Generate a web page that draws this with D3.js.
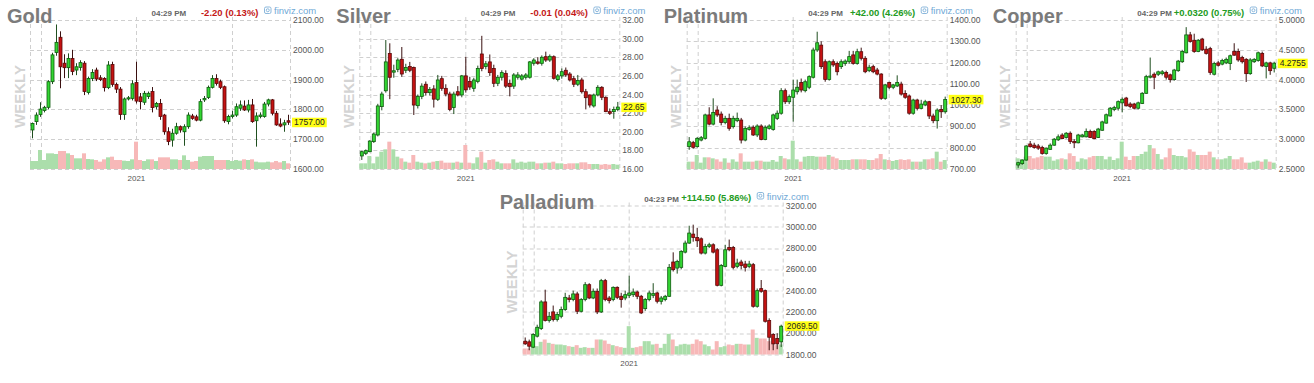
<!DOCTYPE html>
<html><head><meta charset="utf-8">
<script src="https://cdn.jsdelivr.net/npm/d3@7"></script>
<style>
body{margin:0;background:#fff}
svg{display:block}
text{font-family:"Liberation Sans",Arial,sans-serif}
</style>
</head><body>
<svg id="c" width="1314" height="383"></svg>
<script>
// ---------- DATA ([open, high, low, close] per weekly candle) ----------
const goldCandles = [
[1731,1756,1703,1753],[1759,1790,1748,1781],[1783,1824,1775,1801],[1796,1812,1790,1807],[1807,1898,1800,1893],
[1893,1990,1885,1983],[1991,2085,1980,2025],[2042,2062,1871,1943],[1955,1985,1905,1940],[1940,1988,1905,1971],
[1971,2000,1915,1927],[1932,1955,1915,1943],[1941,1965,1930,1957],[1955,1962,1848,1860],[1857,1910,1850,1904],
[1904,1935,1895,1924],[1932,1940,1895,1902],[1906,1915,1895,1900],[1904,1908,1860,1873],[1873,1962,1868,1949],
[1951,1960,1876,1884],[1884,1890,1855,1868],[1868,1875,1765,1783],[1783,1840,1765,1835],[1835,1845,1830,1839],
[1837,1898,1830,1886],[1890,1960,1820,1828],[1842,1855,1800,1826],[1824,1862,1815,1854],[1843,1860,1835,1854],
[1860,1875,1790,1806],[1809,1825,1800,1820],[1820,1835,1765,1776],[1781,1785,1715,1725],[1725,1740,1680,1692],
[1697,1735,1675,1720],[1720,1755,1715,1742],[1742,1746,1722,1731],[1725,1750,1678,1742],[1742,1790,1735,1781],
[1778,1785,1765,1770],[1775,1782,1760,1764],[1764,1835,1760,1826],[1832,1845,1825,1837],[1840,1880,1835,1874],
[1874,1915,1870,1904],[1904,1918,1880,1887],[1893,1900,1868,1874],[1876,1880,1755,1762],[1759,1782,1750,1776],
[1776,1795,1770,1781],[1781,1820,1775,1809],[1804,1830,1795,1815],[1811,1830,1795,1798],[1798,1832,1790,1815],
[1815,1835,1755,1759],[1762,1790,1675,1778],[1776,1790,1770,1781],[1776,1825,1772,1818],[1818,1836,1810,1832],
[1832,1835,1780,1787],[1787,1795,1745,1748],[1751,1770,1740,1744],[1748,1765,1725,1755],[1762,1782,1748,1757]
];
const goldVolume = [24,24,57,27,47,47,45,54,54,47,42,32,32,47,30,29,27,22,29,35,37,27,27,25,24,29,82,27,24,29,29,24,35,35,35,29,29,27,41,27,22,24,37,39,39,39,27,27,27,27,24,27,25,29,27,29,22,20,20,22,20,24,20,24,17];
const goldTicks = [1600,1700,1800,1900,2000,2100];

const silverCandles = [
[17.40,17.95,16.97,17.86],[17.68,18.10,17.50,17.97],[17.86,19.10,17.80,19.00],[18.94,19.90,18.80,19.76],[19.65,23.00,19.50,22.77],
[22.70,24.30,22.30,24.05],[24.40,29.85,24.20,27.50],[28.40,29.50,23.50,25.85],[26.40,27.20,25.80,26.55],[26.70,27.90,26.40,27.70],
[27.78,29.10,25.90,26.20],[26.60,27.30,26.30,26.90],[27.00,27.50,26.40,26.60],[26.90,27.00,21.80,22.87],[22.80,24.00,22.50,23.80],
[23.80,25.20,23.50,24.90],[25.10,25.40,23.90,24.20],[24.20,24.80,23.90,24.55],[24.60,25.00,22.60,23.50],[23.48,26.10,23.30,25.56],
[25.70,26.00,24.40,24.66],[24.66,25.10,23.80,24.05],[24.05,24.30,22.20,22.40],[22.60,24.30,21.90,24.05],[24.30,24.90,23.80,23.95],
[23.95,26.10,23.70,26.00],[26.00,28.06,24.20,24.50],[25.40,25.90,24.50,24.80],[24.66,25.80,24.30,25.56],[25.40,27.10,25.20,26.80],
[28.35,30.30,26.50,26.80],[27.00,27.60,26.70,27.30],[27.50,28.30,26.00,26.35],[26.80,27.20,24.80,25.20],[25.20,26.10,24.90,25.85],
[25.85,26.60,25.50,26.35],[26.27,26.60,24.70,24.90],[25.20,25.60,23.80,24.84],[24.90,26.30,24.60,26.10],[25.85,26.40,25.60,26.10],
[25.65,26.20,25.50,26.00],[25.85,26.30,25.60,26.10],[25.85,27.60,25.70,27.50],[27.35,27.90,27.10,27.70],[27.50,28.00,27.20,27.35],
[27.35,28.20,27.10,28.00],[28.06,28.60,27.50,27.70],[27.70,28.30,27.50,28.10],[28.06,28.20,25.60,25.74],[25.60,26.20,25.40,26.00],
[26.00,26.80,25.70,26.45],[26.60,26.90,25.90,26.10],[26.20,26.40,25.40,25.56],[25.70,26.00,24.80,25.10],[25.10,26.10,24.90,25.50],
[25.56,25.80,24.10,24.30],[24.30,24.60,22.40,23.66],[23.95,24.00,22.60,22.87],[22.77,24.10,22.60,23.95],[23.95,25.00,23.80,24.77],
[24.77,24.90,23.40,23.70],[23.70,23.80,22.10,22.16],[22.16,22.50,21.80,21.98],[22.16,22.70,21.40,22.40],[22.40,23.20,22.20,22.65]
];
const silverVolume = [17,17,39,17,37,52,59,82,59,37,32,22,19,42,22,19,17,19,22,24,25,19,19,19,22,19,72,19,17,35,52,19,27,29,22,17,17,17,29,19,22,19,22,22,17,17,19,19,22,17,17,15,17,17,17,20,20,15,15,15,13,15,13,15,13];
const silverTicks = [16,18,20,22,24,26,28,30,32];

const platinumCandles = [
[805,850,790,828],[824,832,795,802],[805,850,800,844],[836,855,830,847],[844,960,838,954],
[954,990,905,911],[911,1032,905,965],[977,995,945,954],[958,970,905,918],[918,950,910,938],
[938,960,880,891],[899,950,890,938],[927,965,920,938],[930,940,820,836],[836,900,830,891],
[886,905,880,894],[896,905,855,860],[860,910,850,902],[902,910,835,839],[839,905,835,896],
[891,910,885,902],[886,960,880,954],[938,975,930,962],[962,1080,955,1068],[1068,1078,1005,1016],
[1016,1050,1005,1040],[1037,1120,922,1071],[1063,1120,1050,1084],[1106,1125,1060,1071],[1068,1120,1060,1110],
[1084,1140,1075,1134],[1131,1270,1125,1259],[1259,1345,1250,1293],[1282,1300,1170,1181],[1204,1215,1110,1121],
[1121,1210,1115,1204],[1204,1215,1180,1189],[1196,1205,1140,1157],[1181,1215,1170,1204],[1196,1215,1185,1207],
[1204,1255,1195,1228],[1236,1255,1190,1196],[1196,1265,1190,1251],[1251,1270,1210,1220],[1220,1230,1150,1157],
[1162,1190,1155,1178],[1181,1190,1150,1157],[1165,1175,1140,1146],[1146,1150,1025,1032],[1032,1100,1025,1095],
[1106,1110,1075,1084],[1084,1100,1075,1095],[1090,1140,1085,1106],[1099,1110,1045,1052],[1055,1070,1030,1037],
[1043,1050,955,962],[962,1030,955,1024],[1024,1030,975,985],[985,1025,980,1005],[1001,1025,995,1016],
[1016,1020,935,949],[949,960,915,927],[927,985,890,977],[980,1000,940,969],[969,1040,960,1027]
];
const platinumVolume = [22,22,42,19,35,35,32,29,22,32,19,29,22,47,22,22,22,25,25,22,22,27,22,39,32,29,85,29,22,37,39,39,37,37,37,42,37,32,27,27,27,29,29,29,29,27,27,32,45,29,27,24,27,29,27,29,22,22,22,29,29,32,52,22,27];
const platinumTicks = [700,800,900,1000,1100,1200,1300,1400];

const copperCandles = [
[2.567,2.62,2.52,2.606],[2.59,2.66,2.57,2.65],[2.65,2.90,2.64,2.886],[2.92,2.97,2.86,2.875],[2.90,2.94,2.84,2.86],
[2.886,2.92,2.82,2.85],[2.86,2.89,2.74,2.76],[2.76,2.86,2.74,2.85],[2.83,2.93,2.82,2.90],[2.90,3.02,2.89,3.00],
[2.99,3.08,2.97,3.04],[3.07,3.10,3.00,3.01],[3.03,3.12,3.01,3.10],[3.10,3.13,2.92,2.96],[2.96,3.00,2.85,2.94],
[2.94,3.09,2.93,3.07],[3.04,3.09,3.03,3.07],[3.04,3.18,3.03,3.13],[3.13,3.16,3.02,3.03],[3.13,3.15,3.00,3.01],
[3.03,3.19,3.02,3.17],[3.15,3.31,3.14,3.29],[3.27,3.43,3.26,3.41],[3.39,3.54,3.38,3.52],[3.50,3.56,3.47,3.53],
[3.52,3.65,3.48,3.63],[3.61,3.70,3.45,3.67],[3.69,3.71,3.55,3.56],[3.59,3.62,3.52,3.55],[3.59,3.61,3.50,3.52],
[3.52,3.63,3.50,3.61],[3.60,3.79,3.59,3.77],[3.77,4.08,3.76,4.05],[4.04,4.37,4.02,4.06],[4.09,4.12,3.84,4.04],
[4.09,4.15,4.06,4.13],[4.10,4.16,4.07,4.13],[4.12,4.15,4.00,4.04],[4.08,4.10,3.95,4.00],[4.00,4.18,3.98,4.16],
[4.15,4.33,4.13,4.31],[4.30,4.50,4.28,4.47],[4.45,4.88,4.44,4.75],[4.75,4.80,4.62,4.64],[4.66,4.77,4.45,4.47],
[4.47,4.68,4.46,4.66],[4.68,4.70,4.48,4.50],[4.51,4.56,4.42,4.44],[4.52,4.55,4.08,4.12],[4.09,4.30,4.07,4.27],
[4.28,4.31,4.22,4.24],[4.26,4.35,4.24,4.32],[4.28,4.37,4.26,4.34],[4.27,4.42,4.16,4.40],[4.47,4.61,4.40,4.41],
[4.47,4.52,4.30,4.33],[4.37,4.40,4.27,4.30],[4.34,4.36,3.96,4.10],[4.10,4.36,4.08,4.33],[4.30,4.36,4.28,4.34],
[4.32,4.47,4.30,4.45],[4.44,4.47,4.21,4.23],[4.22,4.30,4.02,4.28],[4.28,4.30,4.08,4.15],[4.19,4.30,4.12,4.2755]
];
const copperVolume = [32,29,37,39,32,35,39,37,37,25,29,32,29,47,39,22,32,29,35,39,39,39,29,37,27,32,82,37,27,39,39,45,52,72,62,45,29,35,62,42,39,39,35,59,52,42,42,42,52,35,29,29,32,39,29,29,35,19,19,22,25,22,29,22,19];
const copperTicks = [2.5,3.0,3.5,4.0,4.5,5.0];

const palladiumCandles = [
[1925,1960,1890,1900],[1919,1940,1840,1878],[1869,2000,1860,1988],[1972,2080,1960,2056],[2044,2310,2030,2294],
[2294,2409,2110,2119],[2119,2200,2100,2159],[2200,2260,2110,2128],[2128,2200,2110,2175],[2159,2250,2140,2222],
[2222,2380,2210,2337],[2331,2360,2290,2316],[2316,2400,2300,2369],[2369,2390,2180,2206],[2206,2330,2195,2316],
[2316,2480,2300,2456],[2456,2470,2320,2331],[2331,2420,2320,2394],[2394,2420,2180,2200],[2200,2510,2190,2494],
[2494,2510,2300,2316],[2331,2350,2280,2306],[2316,2440,2300,2431],[2431,2440,2320,2337],[2347,2380,2240,2316],
[2331,2400,2310,2362],[2356,2540,2330,2378],[2362,2420,2340,2387],[2387,2400,2320,2347],[2347,2360,2180,2191],
[2231,2330,2210,2316],[2316,2400,2300,2378],[2356,2470,2330,2372],[2378,2390,2280,2300],[2300,2350,2270,2331],
[2316,2360,2300,2347],[2347,2650,2340,2619],[2669,2760,2580,2597],[2612,2690,2560,2675],[2619,2780,2600,2769],
[2762,2870,2750,2847],[2847,3010,2840,2941],[2931,3020,2860,2900],[2900,2990,2810,2869],[2887,2900,2740,2753],
[2753,2840,2740,2816],[2816,2850,2800,2831],[2831,2845,2750,2762],[2784,2800,2440,2450],[2450,2650,2440,2637],
[2628,2830,2620,2784],[2806,2880,2770,2784],[2806,2820,2600,2619],[2628,2700,2610,2659],[2669,2690,2600,2637],
[2650,2680,2580,2619],[2628,2680,2610,2650],[2644,2660,2240,2253],[2253,2420,2240,2400],[2419,2500,2380,2394],
[2400,2410,2100,2112],[2119,2140,1840,1962],[1988,2000,1840,1900],[1950,2000,1850,1900],[1919,2080,1870,2066]
];
const palladiumVolume = [18,18,32,25,38,45,35,32,30,30,28,25,23,28,20,22,20,20,45,45,42,32,28,25,22,20,85,20,22,25,40,40,30,32,20,32,62,45,25,30,32,30,32,45,40,30,25,15,40,22,25,30,28,32,32,30,30,75,50,48,48,40,32,28,30];
const palladiumTicks = [1800,2000,2200,2400,2600,2800,3000,3200];

const titles = ["Gold","Silver","Platinum","Copper","Palladium"];
const times = ["04:29 PM","04:29 PM","04:29 PM","04:29 PM","04:23 PM"];
const changes = ["-2.20 (0.13%)","-0.01 (0.04%)","+42.00 (4.26%)","+0.0320 (0.75%)","+114.50 (5.86%)"];
const lastPrices = [1757.00, 22.65, 1027.30, 4.2755, 2069.50];
const decimals = [2,2,2,4,2];
const gridWeeks = [2.15, 26.1, 50.1];   // candle-index positions of the date gridlines
const gridLabels = ["", "2021", ""];

// ---------- LAYOUT ----------
const offsets = [[0,0],[329.3,0],[656.7,0],[985.7,0],[492.7,185.5]];
const series = [
  {c:goldCandles, v:goldVolume, t:goldTicks},
  {c:silverCandles, v:silverVolume, t:silverTicks},
  {c:platinumCandles, v:platinumVolume, t:platinumTicks},
  {c:copperCandles, v:copperVolume, t:copperTicks},
  {c:palladiumCandles, v:palladiumVolume, t:palladiumTicks}
];
const PL=30, PR=290, PT=20, PB=169;
const svg = d3.select("#c");

series.forEach((s,k)=>{
  const g = svg.append("g").attr("transform",`translate(${offsets[k][0]},${offsets[k][1]})`);
  const n = s.c.length;
  const x = d3.scaleLinear().domain([-0.5, n-0.5]).range([PL, PR]);
  const y = d3.scaleLinear().domain(d3.extent(s.t)).range([PB, PT]);
  const vy = d3.scaleLinear().domain([0, 90]).range([0, 30]);

  // gridlines
  const grid = g.append("g").attr("stroke","#cfcfcf").attr("stroke-dasharray","4,3").attr("stroke-width",1);
  grid.selectAll("line.h").data(s.t).join("line")
    .attr("x1",PL).attr("x2",PR)
    .attr("y1",d=>Math.round(y(d))+0.5).attr("y2",d=>Math.round(y(d))+0.5);
  const vx = [-0.5, ...gridWeeks, n-0.5];
  grid.selectAll("line.v").data(vx).join("line")
    .attr("x1",d=>Math.round(x(d))+0.5).attr("x2",d=>Math.round(x(d))+0.5)
    .attr("y1",17).attr("y2",171);

  // volume
  g.append("g").selectAll("rect").data(s.v).join("rect")
    .attr("x",(d,i)=>x(i)-2).attr("width",4)
    .attr("y",d=>PB-vy(d)).attr("height",d=>vy(d))
    .attr("fill",(d,i)=>s.c[i][3]>=s.c[i][0]?"#abdeab":"#f7b8b8");

  // candles
  const cg = g.append("g");
  cg.selectAll("line").data(s.c).join("line")
    .attr("x1",(d,i)=>Math.round(x(i))+0.5).attr("x2",(d,i)=>Math.round(x(i))+0.5)
    .attr("y1",d=>y(d[1])).attr("y2",d=>y(d[2]))
    .attr("stroke",d=>d[3]>=d[0]?"#1f4f1f":"#3a1010").attr("stroke-width",1);
  cg.selectAll("rect").data(s.c).join("rect")
    .attr("x",(d,i)=>Math.round(x(i))-1)
    .attr("width",3)
    .attr("y",d=>y(Math.max(d[0],d[3])))
    .attr("height",d=>Math.max(1,Math.abs(y(d[0])-y(d[3]))))
    .attr("fill",d=>d[3]>=d[0]?"#33d633":"#c41212")
    .attr("stroke",d=>d[3]>=d[0]?"#0d5a0d":"#5a0808")
    .attr("stroke-width",0.8);

  // price axis labels
  g.append("g").selectAll("text").data(s.t).join("text")
    .attr("x",293).attr("y",d=>y(d)+3)
    .attr("font-size","8.5px").attr("fill","#555")
    .text(d=>d.toFixed(decimals[k]));

  // last price box
  const lp = g.append("g");
  const lt = lp.append("text").attr("x",294).attr("y",y(lastPrices[k])+3.2)
    .attr("font-size","8.5px").attr("fill","#222").text(lastPrices[k].toFixed(decimals[k]));
  const w = lt.node().getComputedTextLength();
  lp.insert("rect","text").attr("x",292).attr("y",y(lastPrices[k])-4.5)
    .attr("width",w+4).attr("height",9.5).attr("fill","#ffff14");

  // date labels
  g.append("g").selectAll("text").data(gridWeeks).join("text")
    .attr("x",d=>x(d)).attr("y",180.5).attr("text-anchor","middle")
    .attr("font-size","8px").attr("fill","#555").text((d,i)=>gridLabels[i]);

  // title
  g.append("text").attr("x",7).attr("y",23).attr("font-size","20px").attr("font-weight","bold")
    .attr("fill","#7b7b7b").text(titles[k]);
  // weekly
  g.append("text").attr("transform","translate(24.5,96.5) rotate(-90)").attr("text-anchor","middle")
    .attr("font-size","15px").attr("font-weight","bold").attr("fill","#d4d4d4").text("WEEKLY");
  // header
  g.append("text").attr("x",151.5).attr("y",16).attr("font-size","8px").attr("font-weight","bold")
    .attr("fill","#666").text(times[k]);
  g.append("text").attr("x",258.5).attr("y",15.5).attr("text-anchor","end").attr("font-size","9.5px")
    .attr("font-weight","bold").attr("fill",changes[k][0]==="-"?"#c41818":"#239b23").text(changes[k]);
  const ic = g.append("g").attr("stroke","#7fb0d8").attr("fill","none").attr("stroke-width",0.9);
  ic.append("rect").attr("x",264.5).attr("y",7).attr("width",6.5).attr("height",6.5).attr("rx",1.5);
  ic.append("circle").attr("cx",267.75).attr("cy",10.25).attr("r",1.5);
  g.append("text").attr("x",274).attr("y",14).attr("font-size","9.5px").attr("fill","#6fa8d6").text("finviz.com");
});
</script>
</body></html>
